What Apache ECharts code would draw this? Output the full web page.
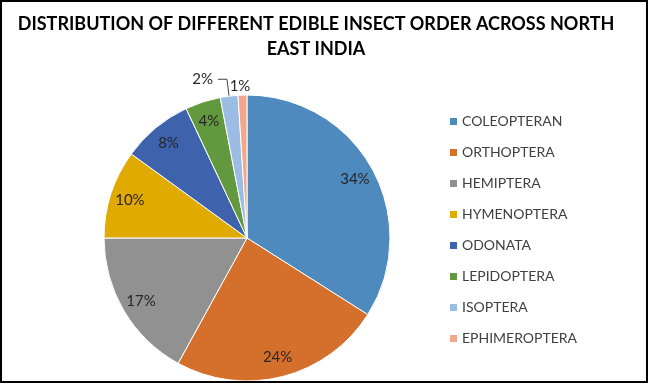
<!DOCTYPE html>
<html><head><meta charset="utf-8">
<script src="https://cdn.jsdelivr.net/npm/echarts@6/dist/echarts.min.js"></script>
<style>html,body{margin:0;padding:0;background:#fff}#c{width:648px;height:383px}</style>
</head><body><div id="c"></div>
<script>
const titleLines = ['DISTRIBUTION OF DIFFERENT EDIBLE INSECT ORDER ACROSS NORTH', 'EAST INDIA'];
const categories = ['COLEOPTERAN','ORTHOPTERA','HEMIPTERA','HYMENOPTERA','ODONATA','LEPIDOPTERA','ISOPTERA','EPHIMEROPTERA'];
const values = [34, 24, 17, 10, 8, 4, 2, 1];
const colors = ['#4F8ABE','#D4702C','#919191','#E1AA00','#3E62AC','#63993E','#9BBCE3','#F1A78B'];

const FONT = 'Lato';
const center = [247, 238];
const R = 143;

const chart = echarts.init(document.getElementById('c'), null, {renderer: 'canvas'});

const mainData = categories.map((n, i) => ({name: n, value: values[i], itemStyle: {color: colors[i]}}));
const labelData = categories.map((n, i) => {
  const o = {name: n, value: values[i]};
  if (i === 6) {
    o.label = {position: 'outside'};
    o.labelLine = {show: true, length: 17, length2: 9, lineStyle: {color: '#404040', width: 1}};
  } else if (i === 7) {
    o.label = {position: 'outside'};
    o.labelLine = {show: false, length: 4, length2: 0};
  }
  return o;
});

chart.setOption({
  animation: false,
  color: colors,
  title: {
    text: titleLines.join('\n'),
    left: 311, top: 7, textAlign: 'center',
    textStyle: {fontFamily: FONT, fontWeight: 'bold', fontSize: 18, lineHeight: 25, color: '#000'}
  },
  legend: {
    orient: 'vertical', left: 443, top: 109,
    itemWidth: 9, itemHeight: 9, itemGap: 16,
    icon: 'rect',
    data: categories,
    textStyle: {fontFamily: FONT, fontSize: 14, color: '#404040', lineHeight: 15, padding: [0,0,0,-1]}
  },
  graphic: [{
    type: 'rect', shape: {x: 1, y: 1, width: 646, height: 381},
    style: {fill: 'none', stroke: '#000', lineWidth: 2}, silent: true, z: 100
  }],
  series: [{
    type: 'pie', center: center, radius: [0, R],
    startAngle: 90, clockwise: true,
    label: {show: false}, labelLine: {show: false},
    itemStyle: {borderColor: '#fff', borderWidth: 1},
    data: mainData
  }, {
    type: 'pie', center: center, radius: [R * 0.68, R],
    startAngle: 90, clockwise: true, silent: true,
    avoidLabelOverlap: false,
    itemStyle: {color: 'rgba(0,0,0,0)'},
    label: {show: true, position: 'inside', formatter: '{d}%', fontFamily: FONT, fontSize: 15, color: '#262626'},
    labelLayout: function (p) {
      if (p.dataIndex === 7) return {dx: 13, dy: -5};
      return {};
    },
    data: labelData
  }]
});
</script></body></html>
